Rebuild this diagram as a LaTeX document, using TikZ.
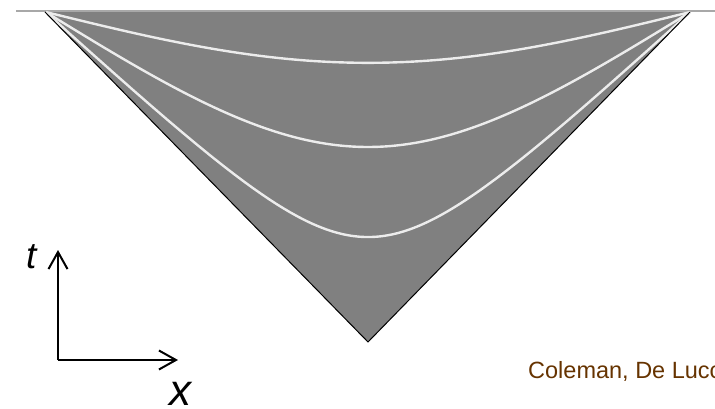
\documentclass[tikz,border=0pt]{standalone}
\usepackage{fontspec}
\setmainfont{Liberation Sans}
\usepackage{xcolor}
\definecolor{cone}{RGB}{128,128,128}
\definecolor{rim}{RGB}{168,168,168}
\definecolor{slice}{RGB}{236,236,236}
\definecolor{credit}{RGB}{102,51,0}
\usepackage{tikz}
\usetikzlibrary{arrows.meta}

\begin{document}
\begin{tikzpicture}[
  x=1pt, y=-1pt,
  wall/.style={draw=black, line width=1pt},
  sliceline/.style={draw=slice, line width=2.4pt},
  axis/.style={line width=2pt, -{Straight Barb[length=17pt, width=19pt]}},
  axlabel/.style={inner sep=0pt, anchor=base},
  declare function={conj(\k,\a)=atan2(\k*cos(\a),sin(\a));},
]
  \useasboundingbox (0,0) rectangle (715,409);
  \clip (0,0) rectangle (715,409);

  % Bubble interior
  \coordinate (left) at (45,12);
  \coordinate (right) at (690,12);
  \coordinate (apex) at (368,342);
  \fill[cone] (left) -- (right) -- (apex) -- cycle;

  % Future boundary
  \draw[rim, line width=2.5pt] (16,11) -- (715,11);

  % Constant-time slices inside the bubble
  \foreach \kk in {0.6134,0.2506,0.0651} {
    \draw[sliceline] plot[domain=0.05:89.95, samples=240, variable=\ang]
      ({368 + 0.977*(\ang - conj(\kk,\ang))*3.6667},
       {342 - (\ang + conj(\kk,\ang))*3.6667});
  }

  % Bubble walls
  \draw[wall] (left) -- (apex) -- (right);

  % Axes
  \coordinate (o) at (58,360);
  \coordinate (tend) at (58,250);
  \coordinate (xend) at (178,360);
  \draw[axis] (o) -- (tend);
  \draw[axis] (o) -- (xend);
  \node[axlabel, font=\fontsize{37}{37}\selectfont\itshape] (tlab) at (32,268) {t};
  \node[axlabel, font=\fontsize{44}{44}\selectfont\itshape] (xlab) at (180,405) {x};

  % Credit
  \node[inner sep=0pt, anchor=base west, text=credit,
        font=\fontsize{23.5}{24}\selectfont] (cred) at (528,378) {Coleman, De Luccia};
\end{tikzpicture}
\end{document}
